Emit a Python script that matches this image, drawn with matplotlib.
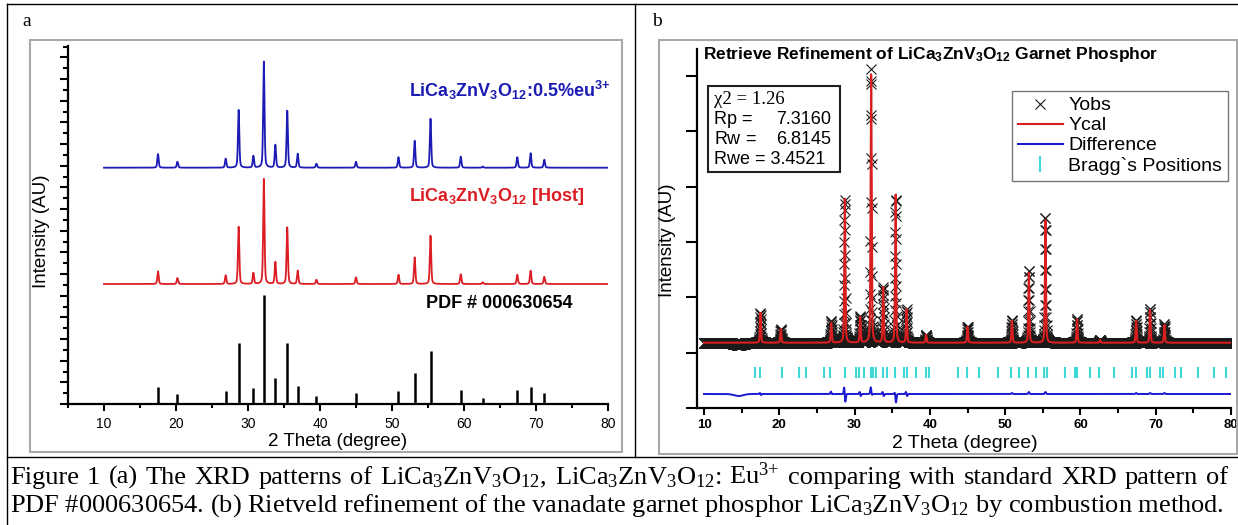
import numpy as np
import matplotlib
matplotlib.use('Agg')
import matplotlib.pyplot as plt
from matplotlib.patches import Rectangle
from matplotlib.lines import Line2D
from matplotlib.ticker import MultipleLocator, NullFormatter

plt.rcParams['font.family'] = ['Liberation Sans', 'DejaVu Sans']
plt.rcParams['mathtext.default'] = 'regular'

W, H = 1238, 525
fig = plt.figure(figsize=(W / 100, H / 100), dpi=100)


def fx(x):
    return x / W


def fy(y):
    return 1 - y / H


# ------------------------------------------------------------------ data
peak_pos = [17.5, 20.2, 26.9, 28.7, 30.75, 32.2, 33.8, 35.45, 36.9, 39.5,
            45.0, 50.9, 53.15, 55.35, 59.55, 62.6, 67.4, 69.25, 71.15]
# panel (a) intensities (plot units)
pdf_int = [1.57, 0.92, 1.16, 5.63, 1.44, 10.06, 2.40, 5.63, 1.63, 0.77,
           0.98, 1.23, 2.82, 4.85, 1.29, 0.53, 1.26, 1.60, 1.04]
host_int = [1.17, 0.55, 0.80, 5.29, 1.02, 9.70, 2.03, 5.23, 1.23, 0.40,
            0.62, 0.86, 2.46, 4.46, 0.90, 0.16, 0.86, 1.23, 0.67]
eu_int = [1.26, 0.55, 0.83, 5.33, 1.08, 9.79, 2.10, 5.26, 1.29, 0.37,
          0.55, 0.97, 2.49, 4.52, 1.02, 0.10, 0.97, 1.34, 0.74]
host_offset = 11.08
eu_offset = 21.82

# panel (b) refinement (counts)
calc_int = [540, 250, 360, 2600, 470, 4850, 1000, 2710, 600, 145,
            290, 400, 1280, 2240, 430, 50, 400, 600, 325]
background = 1180
diff_sym = [0, 0, 36, -18, 0, 90, 0, -110, 0, 0,
            0, 18, 36, 36, 0, 0, 18, 18, 18]
diff_asym = [18, 0, 18, 127, 36, 54, 36, 72, 36, 0,
             0, 0, 0, 0, 0, 0, 0, 0, 0]
diff_level = 253
bragg_pos = [16.8, 17.4, 20.3, 22.6, 23.5, 25.9, 26.8, 28.7, 30.2, 30.6,
             31.3, 32.2, 32.5, 32.8, 33.8, 34.3, 35.4, 36.6, 36.9, 38.2,
             39.5, 39.9, 43.7, 44.9, 46.5, 49.1, 50.8, 51.8, 53.0, 54.1,
             55.2, 55.6, 58.0, 59.3, 59.6, 61.3, 62.5, 64.4, 66.9, 67.4,
             68.9, 69.2, 70.6, 71.0, 72.5, 73.3, 75.6, 77.8, 79.3]
bragg_low, bragg_high = 543, 741
stats = {'chi2': '1.26', 'Rp': '7.3160', 'Rw': '6.8145', 'Rwe': '3.4521'}


def profile(x, pos, amp, fwhm):
    y = np.zeros_like(x)
    for p, a in zip(pos, amp):
        u = (x - p) / fwhm
        y += a * (0.6 * np.exp(-4 * np.log(2) * u ** 2) + 0.4 / (1 + 4 * u ** 2))
    return y


def dispersive(x, pos, sym, asym, w):
    y = np.zeros_like(x)
    for p, s, a in zip(pos, sym, asym):
        u = (x - p) / w
        y += s * np.exp(-0.5 * u ** 2) + a * (-u) * np.exp(0.5 - 0.5 * u ** 2)
    return y


# ------------------------------------------------------------------ table lines & boxes
line_kw = dict(transform=fig.transFigure, color='black', lw=1.0)
fig.add_artist(Line2D([fx(7), fx(1238)], [fy(4), fy(4)], **line_kw))
fig.add_artist(Line2D([fx(7), fx(7)], [fy(4), fy(525)], **line_kw))
fig.add_artist(Line2D([fx(635), fx(635)], [fy(4), fy(457)], **line_kw))
fig.add_artist(Line2D([fx(7), fx(1238)], [fy(457), fy(457)], **line_kw))
for (x0, y0, x1, y1) in [(30, 40, 622, 452), (659, 40, 1237, 454)]:
    fig.add_artist(Rectangle((fx(x0), fy(y1)), (x1 - x0) / W, (y1 - y0) / H,
                             transform=fig.transFigure, fill=False,
                             ec='#a8a8a8', lw=1.5))

fig.text(fx(22), fy(22), 'a', family='Liberation Serif', fontsize=14, va='center')
fig.text(fx(652), fy(22), 'b', family='Liberation Serif', fontsize=14, va='center')

# ------------------------------------------------------------------ panel (a)
axa = fig.add_axes([fx(68), fy(404), (608 - 68) / W, (404 - 46) / H])
xa = np.arange(10, 80.0001, 0.01)
axa.plot(xa, eu_offset + profile(xa, peak_pos, eu_int, 0.22), color='#1c1cb4', lw=1.3)
axa.plot(xa, host_offset + profile(xa, peak_pos, host_int, 0.22), color='#dc1e24', lw=1.3)
axa.vlines(peak_pos, 0, pdf_int, color='black', lw=1.8)
axa.set_xlim(5, 80)
axa.set_ylim(0, 33.06)
for s in ['top', 'right']:
    axa.spines[s].set_visible(False)
for s in ['left', 'bottom']:
    axa.spines[s].set_linewidth(1.6)
axa.xaxis.set_major_locator(MultipleLocator(10))
axa.xaxis.set_minor_locator(MultipleLocator(5))
axa.yaxis.set_major_locator(MultipleLocator(2))
axa.yaxis.set_minor_locator(MultipleLocator(1))
axa.yaxis.set_major_formatter(NullFormatter())
axa.tick_params(axis='x', which='major', length=5, width=1.5, labelsize=10, pad=4)
axa.tick_params(axis='x', which='minor', length=3, width=1.5)
axa.tick_params(axis='y', which='major', length=6, width=1.5)
axa.tick_params(axis='y', which='minor', length=3.5, width=1.5)
axa.set_xticks([10, 20, 30, 40, 50, 60, 70, 80])

fig.text(fx(338), fy(441), '2 Theta (degree)', fontsize=13.5, ha='center', va='center')
fig.text(fx(42), fy(231), 'Intensity (AU)', fontsize=13.5, ha='center', va='center', rotation=90)

fig.text(fx(409), fy(97), r'LiCa$_3$ZnV$_3$O$_{12}$:0.5%eu$^{3{+}}$', color='#1c1cb4',
         fontsize=13, fontweight='bold', va='baseline')
fig.text(fx(409), fy(201), r'LiCa$_3$ZnV$_3$O$_{12}$ [Host]', color='#dc1e24',
         fontsize=13, fontweight='bold', va='baseline')
fig.text(fx(426), fy(308), 'PDF # 000630654', color='black',
         fontsize=13, fontweight='bold', va='baseline')

# ------------------------------------------------------------------ panel (b)
axb = fig.add_axes([fx(697), fy(408), (1231 - 697) / W, (408 - 49) / H])
xb = np.arange(10, 80.0001, 0.02)
ycal = background + profile(xb, peak_pos, calc_int, 0.16)
ydiff = dispersive(xb, peak_pos, diff_sym, diff_asym, 0.08)
ydiff += dispersive(xb, [14.6], [-36], [0], 0.6)
yobs = ycal + ydiff
axb.plot(xb, yobs, ls='none', marker='x', ms=7, mew=0.8, color='#1a1a1a')
axb.plot(xb, ycal, color='#d81e1e', lw=1.5)
axb.plot(xb, diff_level + ydiff, color='#1a1ad2', lw=1.4)
axb.vlines(bragg_pos, bragg_low, bragg_high, color='#3fd8d8', lw=1.5)
axb.set_xlim(9.07, 80)
axb.set_ylim(0, 6490)
for s in ['top', 'right']:
    axb.spines[s].set_visible(False)
for s in ['left', 'bottom']:
    axb.spines[s].set_linewidth(1.6)
axb.xaxis.set_major_locator(MultipleLocator(10))
axb.xaxis.set_minor_locator(MultipleLocator(5))
axb.set_xticks([10, 20, 30, 40, 50, 60, 70, 80])
axb.yaxis.set_major_locator(MultipleLocator(1000))
axb.yaxis.set_major_formatter(NullFormatter())
axb.tick_params(axis='x', which='major', length=5, width=1.5, labelsize=9.5, pad=3)
axb.tick_params(axis='x', which='minor', length=3.5, width=1.5)
axb.tick_params(axis='y', which='major', length=8, width=1.5)
for lab in axb.get_xticklabels():
    lab.set_fontweight('bold')

fig.text(fx(965), fy(443), '2 Theta (degree)', fontsize=14, ha='center', va='center')
fig.text(fx(668), fy(240), 'Intensity (AU)', fontsize=13.5, ha='center', va='center', rotation=90)
fig.text(fx(703), fy(55), r'Retrieve Refinement of LiCa$_3$ZnV$_3$O$_{12}$ Garnet Phosphor',
         fontsize=12.5, fontweight='bold', va='center')

# stats box
fig.add_artist(Rectangle((fx(708), fy(172)), (840 - 708) / W, (172 - 86) / H,
                         transform=fig.transFigure, fill=False, ec='#202020', lw=1.5))
fig.text(fx(714), fy(100), r'χ2 = ' + stats['chi2'], family='Liberation Serif',
         fontsize=13.5, va='center')
fig.text(fx(714), fy(119), 'Rp =', fontsize=13, va='center')
fig.text(fx(831), fy(119), stats['Rp'], fontsize=13, va='center', ha='right')
fig.text(fx(714), fy(139), 'Rw', fontsize=13, va='center')
fig.text(fx(745), fy(139), '=', fontsize=13, va='center')
fig.text(fx(831), fy(139), stats['Rw'], fontsize=13, va='center', ha='right')
fig.text(fx(714), fy(159), 'Rwe = ' + stats['Rwe'], fontsize=13, va='center')

# legend
handles = [Line2D([], [], ls='none', marker='x', ms=7, mew=0.8, color='#1a1a1a'),
           Line2D([], [], color='#d81e1e', lw=1.5),
           Line2D([], [], color='#1a1ad2', lw=1.5),
           Line2D([], [], ls='none', marker='|', ms=12, mew=1.5, color='#3fd8d8')]
leg = fig.legend(handles, ['Yobs', 'Ycal', 'Difference', 'Bragg`s Positions'],
                 loc='upper left', bbox_to_anchor=(fx(1012), fy(91)),
                 fontsize=14, frameon=True, fancybox=False, edgecolor='#555555',
                 handlelength=2.3, handletextpad=0.3, labelspacing=0.12,
                 borderpad=0.3, borderaxespad=0)
leg.get_frame().set_linewidth(1.0)

# ------------------------------------------------------------------ caption
cap_font = 'Liberation Serif'
line1 = ('Figure 1 (a) The XRD patterns of LiCa$_3$ZnV$_3$O$_{12}$, LiCa$_3$ZnV$_3$O$_{12}$: '
         'Eu$^{3{+}}$ comparing with standard XRD pattern of')
line2 = ('PDF #000630654. (b) Rietveld refinement of the vanadate garnet phosphor '
         'LiCa$_3$ZnV$_3$O$_{12}$ by combustion method.')
renderer = fig.canvas.get_renderer()


def width_of(s, size):
    t = fig.text(0, 0, s, family=cap_font, fontsize=size)
    w = t.get_window_extent(renderer).width
    t.remove()
    return w


size = 14 * 1220 / width_of(line2, 14)
fig.text(fx(10), fy(512), line2, family=cap_font, fontsize=size, va='baseline')
words = line1.split(' ')
widths = [width_of(w, size) for w in words]
gap = (1228 - 10 - sum(widths)) / (len(words) - 1)
xpos = 10
for w, wd in zip(words, widths):
    fig.text(fx(xpos), fy(484), w, family=cap_font, fontsize=size, va='baseline')
    xpos += wd + gap

fig.savefig('out.png', dpi=100)
